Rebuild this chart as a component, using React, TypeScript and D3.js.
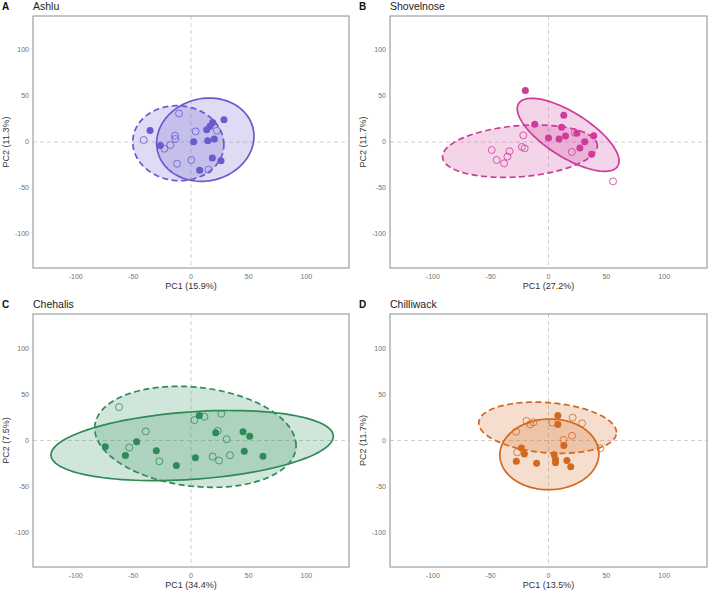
import React from "react";
import * as d3 from "d3";

// ---------- DATA ----------
const panelLetters = ["A", "B", "C", "D"];
const panelNames = ["Ashlu", "Shovelnose", "Chehalis", "Chilliwack"];
const pc1Labels = ["PC1 (15.9%)", "PC1 (27.2%)", "PC1 (34.4%)", "PC1 (13.5%)"];
const pc2Labels = ["PC2 (11.3%)", "PC2 (11.7%)", "PC2 (7.5%)", "PC2 (11.7%)"];
const panelColors = ["#6A5ACD", "#CF3A9B", "#2E8B57", "#D2691E"];
const tickValues = [-100, -50, 0, 50, 100];
const axisDomain = [-137, 137];

// filled points (solid ellipse group)
const ashluFilled: [number, number][] = [
  [-35.5, 12.6], [-26.6, -3.7], [2.3, 0.3], [13.6, 13.4], [16.5, 17], [18.8, 21.3],
  [28.6, 24.2], [14.5, 1.4], [20.2, 3.2], [18.5, -17.4], [26, -20.3], [7.5, -30.8],
];
// open points (dashed ellipse group)
const ashluOpen: [number, number][] = [
  [-41, 2.2], [-10.4, 31], [-13.9, 6.8], [-13.6, 3.3], [-17.9, -3.3], [-23.1, -7.3],
  [4, 11.5], [22.5, 12.3], [0.3, -19.6], [-12.1, -23.6], [15.1, -30.1],
];
const shovelnoseFilled: [number, number][] = [
  [-20, 56], [-11.9, 19.4], [13.2, 29], [11.3, 16], [14.7, 6.5], [0, 4.3],
  [9.1, 3.2], [24.5, 9.5], [39.1, 6.8], [31.3, 0.3], [27.1, -6.5], [37.3, -13.3],
];
const shovelnoseOpen: [number, number][] = [
  [-49.1, -8.7], [-44.8, -19.6], [-38.4, -23.2], [-35.5, -15.9], [-33.7, -10.1],
  [-21.8, 7.2], [-23, -5.4], [-20.6, -6.9], [20.1, -10.9], [22.7, 10.2], [55.8, -42.8],
];
const chehalisFilled: [number, number][] = [
  [-74.3, -6.9], [-56.9, -16.3], [-47.1, -1.4], [-30.1, -11.2], [-12.7, -27.2], [3.8, -18.8],
  [7.2, 27.2], [21.4, 8.3], [45.1, 9.4], [50.9, 4.7], [46.2, -11.6], [62.4, -17],
];
const chehalisOpen: [number, number][] = [
  [-62.4, 36.2], [-39.3, 9.8], [-53.5, -7.6], [-27.5, -22.5], [2.9, 22.1], [11.6, 25.7],
  [26.3, 29], [23.1, 10.5], [30.9, 1.4], [18.8, -17.4], [24.3, -21.7], [33.8, -15.9],
];
const chilliwackFilled: [number, number][] = [
  [8.1, 27.2], [8.1, 17.2], [13.3, -5.5], [-23.4, -8], [-20.8, -14.6], [-27.8, -22.4],
  [-10.3, -24.6], [4.9, -15.3], [6.1, -20.7], [6.1, -24.1], [15.9, -21.7], [19.2, -28.3],
];
const chilliwackOpen: [number, number][] = [
  [-19.1, 21.2], [-15.9, 17.5], [-13, 19.7], [-28.1, 9.5], [-27, -12.8], [3.2, 19.3],
  [20.9, 24.8], [29, 18.6], [13, 0.7], [20.3, 5.1], [44.9, -8.4],
];

// ellipses: [centerX, centerY, varX, varY, covXY] (shape matrix in data units)
const ashluFilledEllipse = [12.4, 2.5, 1781, 2052, 158];
const ashluOpenEllipse = [-11, -1.3, 1560, 1665, -57];
const shovelnoseFilledEllipse = [17, 7.8, 1936, 1576, -1250];
const shovelnoseOpenEllipse = [-24.7, -10, 4476, 812, 400];
const chehalisFilledEllipse = [1, -5.5, 14982, 1444, 1236];
const chehalisOpenEllipse = [3.8, 4, 7621, 2992, -820];
const chilliwackFilledEllipse = [0.75, -15, 1832, 1467, 30];
const chilliwackOpenEllipse = [-0.75, 13.85, 3540, 770, -306];

const filledSets = [ashluFilled, shovelnoseFilled, chehalisFilled, chilliwackFilled];
const openSets = [ashluOpen, shovelnoseOpen, chehalisOpen, chilliwackOpen];
const filledEllipses = [ashluFilledEllipse, shovelnoseFilledEllipse, chehalisFilledEllipse, chilliwackFilledEllipse];
const openEllipses = [ashluOpenEllipse, shovelnoseOpenEllipse, chehalisOpenEllipse, chilliwackOpenEllipse];

// ---------- helpers ----------
function ellipsePoints(e: number[]): [number, number][] {
  const [cx, cy, sxx, syy, sxy] = e;
  const l11 = Math.sqrt(sxx);
  const l21 = sxy / l11;
  const l22 = Math.sqrt(Math.max(syy - l21 * l21, 0));
  const pts: [number, number][] = [];
  const n = 120;
  for (let i = 0; i < n; i++) {
    const t = (i / n) * Math.PI * 2;
    const u = Math.cos(t);
    const v = Math.sin(t);
    pts.push([cx + l11 * u, cy + l21 * u + l22 * v]);
  }
  return pts;
}

const FONT = "'Liberation Sans', Arial, Helvetica, sans-serif";

const layout = [
  { x0: 33, x1: 349, y0: 16, y1: 268 },
  { x0: 390, x1: 707, y0: 16, y1: 268 },
  { x0: 33, x1: 349, y0: 314, y1: 567 },
  { x0: 390, x1: 707, y0: 314, y1: 567 },
];

function Panel({ i }: { i: number }) {
  const L = layout[i];
  const color = panelColors[i];
  const x = d3.scaleLinear().domain(axisDomain).range([L.x0, L.x1]);
  const y = d3.scaleLinear().domain(axisDomain).range([L.y1, L.y0]);
  const line = d3
    .line<[number, number]>()
    .x((d) => x(d[0]))
    .y((d) => y(d[1]))
    .curve(d3.curveLinearClosed);
  const clipId = `clip${i}`;
  const fillE = line(ellipsePoints(filledEllipses[i])) || "";
  const openE = line(ellipsePoints(openEllipses[i])) || "";
  return (
    <g>
      <defs>
        <clipPath id={clipId}>
          <rect x={L.x0} y={L.y0} width={L.x1 - L.x0} height={L.y1 - L.y0} />
        </clipPath>
      </defs>
      <text x={L.x0 - 31} y={L.y0 - 6.5} fontFamily={FONT} fontWeight="bold" fontSize={10} fill="#111">
        {panelLetters[i]}
      </text>
      <text x={L.x0} y={L.y0 - 6.5} fontFamily={FONT} fontSize={10.5} fill="#222">
        {panelNames[i]}
      </text>
      <g clipPath={`url(#${clipId})`}>
        <line x1={x(0)} x2={x(0)} y1={L.y0} y2={L.y1} stroke="#c4c4c4" strokeWidth={0.8} strokeDasharray="4,3" />
        <line x1={L.x0} x2={L.x1} y1={y(0)} y2={y(0)} stroke="#c4c4c4" strokeWidth={0.8} strokeDasharray="4,3" />
        <path d={openE} fill={color} fillOpacity={0.22} stroke="none" />
        <path d={fillE} fill={color} fillOpacity={0.22} stroke="none" />
        <path d={openE} fill="none" stroke={color} strokeWidth={1.7} strokeDasharray="6,3.5" />
        <path d={fillE} fill="none" stroke={color} strokeWidth={1.7} />
        {openSets[i].map((p, k) => (
          <circle key={"o" + k} cx={x(p[0])} cy={y(p[1])} r={3.5} fill="none" stroke={color} strokeWidth={0.8} />
        ))}
        {filledSets[i].map((p, k) => (
          <circle key={"f" + k} cx={x(p[0])} cy={y(p[1])} r={3.5} fill={color} stroke="none" />
        ))}
      </g>
      <rect x={L.x0} y={L.y0} width={L.x1 - L.x0} height={L.y1 - L.y0} fill="none" stroke="#8c8c8c" strokeWidth={1} />
      {tickValues.map((t) => (
        <text key={"xt" + t} x={x(t)} y={L.y1 + 10.8} textAnchor="middle" fontFamily={FONT} fontSize={7} fill="#707070">
          {t}
        </text>
      ))}
      {tickValues.map((t) => (
        <text key={"yt" + t} x={L.x0 - 4} y={y(t)} dy="0.35em" textAnchor="end" fontFamily={FONT} fontSize={7} fill="#707070">
          {t}
        </text>
      ))}
      <text x={(L.x0 + L.x1) / 2} y={L.y1 + 21} textAnchor="middle" fontFamily={FONT} fontSize={9} fill="#333">
        {pc1Labels[i]}
      </text>
      <text
        transform={`translate(${L.x0 - 24.5},${(L.y0 + L.y1) / 2}) rotate(-90)`}
        textAnchor="middle"
        fontFamily={FONT}
        fontSize={9}
        fill="#333"
      >
        {pc2Labels[i]}
      </text>
    </g>
  );
}

export default function App() {
  return (
    <svg
      width={709}
      height={590}
      viewBox="0 0 709 590"
      style={{ position: "absolute", left: 0, top: 0, background: "#fff" }}
    >
      <rect width={709} height={590} fill="#fff" />
      {[0, 1, 2, 3].map((i) => (
        <Panel key={i} i={i} />
      ))}
    </svg>
  );
}
